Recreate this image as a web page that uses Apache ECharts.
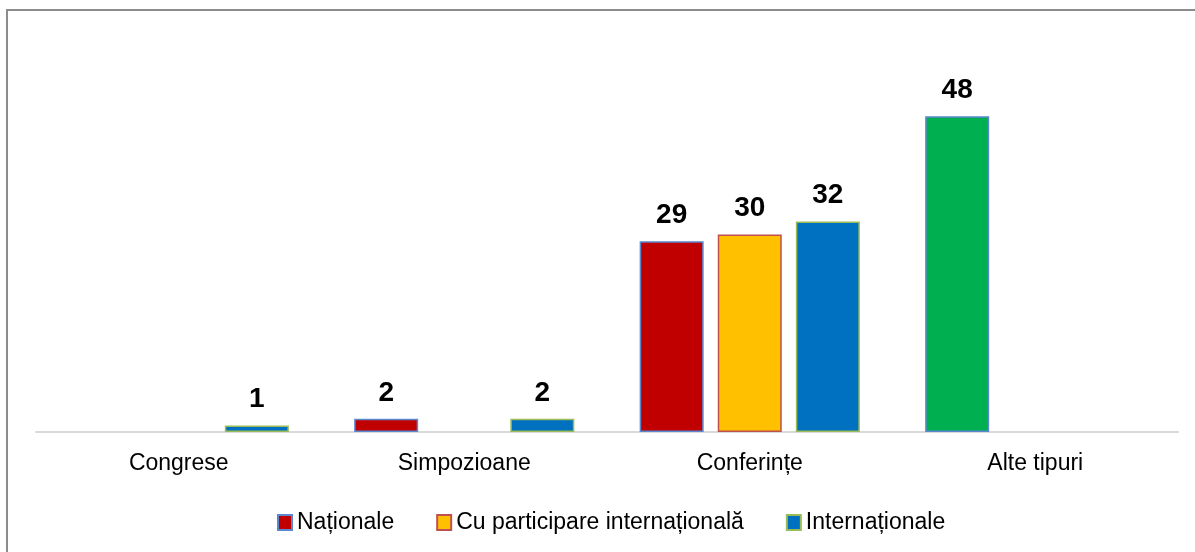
<!DOCTYPE html>
<html>
<head>
<meta charset="utf-8">
<script src="https://cdn.jsdelivr.net/npm/echarts@6/dist/echarts.min.js"></script>
<style>
    html, body { margin: 0; padding: 0; background: #fff; }
    #chart { width: 1195px; height: 552px; }
</style>
</head>
<body>
<div id="chart"></div>
<script>
// categorii si serii
var categories = ['Congrese', 'Simpozioane', 'Conferințe', 'Alte tipuri'];
var seriesNames = ['Naționale', 'Cu participare internațională', 'Internaționale'];
var nationale = [null, 2, 29, 48];
var cuParticipare = [null, null, 30, null];
var internationale = [1, 2, 32, null];

var fillColors = ['#c00000', '#ffc000', '#0070c0'];
var borderColors = ['#5b87cf', '#c0504d', '#9bbb59'];
var datas = [nationale, cuParticipare, internationale];

var font = '"Liberation Sans", Arial, sans-serif';

var series = [];
for (var i = 0; i < 3; i++) {
    var d = datas[i].map(function (v, j) {
        // "Alte tipuri" apare verde in original
        if (i === 0 && j === 3 && v != null) {
            return { value: v, itemStyle: { color: '#00b050' } };
        }
        return v;
    });
    series.push({
        name: seriesNames[i],
        type: 'bar',
        barWidth: 64,
        barGap: '22%',
        itemStyle: {
            color: fillColors[i],
            borderColor: borderColors[i],
            borderWidth: 1.5
        },
        label: {
            show: true,
            position: 'top',
            distance: 12,
            color: '#000',
            fontSize: 28,
            fontWeight: 'bold',
            fontFamily: font
        },
        data: d
    });
}

var dom = echarts.init(document.getElementById('chart'));
var option = {
    backgroundColor: '#fff',
    animation: false,
    graphic: [{
        type: 'rect',
        shape: { x: 7, y: 10, width: 1200, height: 560 },
        style: { fill: 'none', stroke: '#8c8c8c', lineWidth: 2 }
    }],
    legend: {
        top: 506,
        left: 272,
        itemWidth: 14,
        itemHeight: 15,
        itemGap: 42,
        icon: 'rect',
        textStyle: { color: '#000', fontSize: 23, fontFamily: font },
        data: seriesNames
    },
    grid: {
        left: 36,
        right: 17,
        top: 103,
        bottom: 120
    },
    xAxis: {
        type: 'category',
        data: categories,
        axisLine: { lineStyle: { color: '#d9d9d9', width: 2 } },
        axisTick: { show: false },
        axisLabel: {
            color: '#000',
            fontSize: 23,
            fontFamily: font,
            margin: 20
        }
    },
    yAxis: {
        type: 'value',
        min: 0,
        max: 50,
        show: false,
        splitLine: { show: false }
    },
    series: series
};
dom.setOption(option);
</script>
</body>
</html>
